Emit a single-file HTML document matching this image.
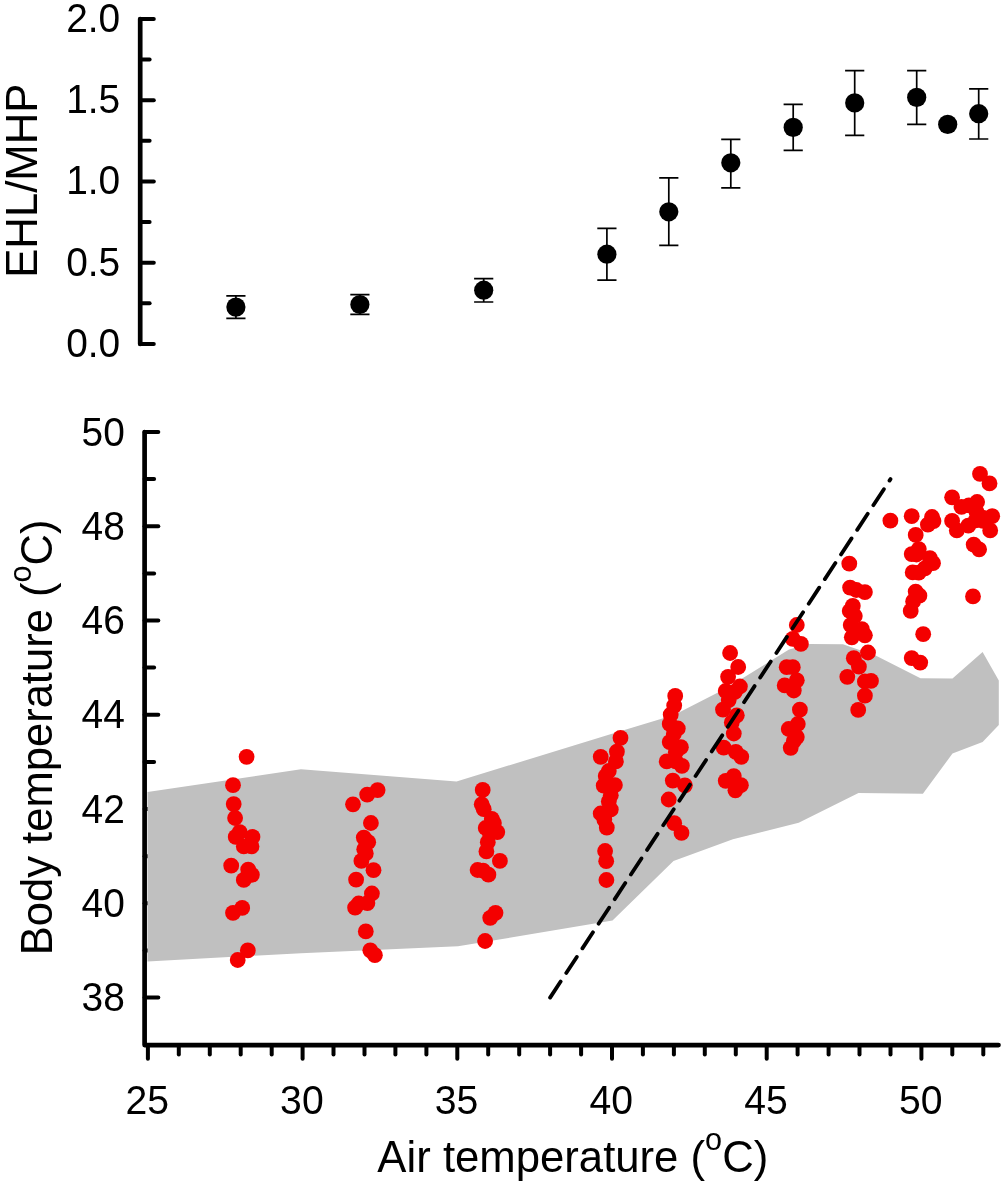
<!DOCTYPE html>
<html lang="en"><head><meta charset="utf-8"><title>EHL/MHP and body temperature vs air temperature</title>
<style>html,body{margin:0;padding:0;background:#fff;}body{width:1003px;height:1184px;overflow:hidden;}svg{display:block;}text{font-family:"Liberation Sans",Arial,Helvetica,sans-serif;fill:#000;}</style>
</head><body>
<svg width="1003" height="1184" viewBox="0 0 1003 1184">
<rect x="0" y="0" width="1003" height="1184" fill="#ffffff"/>
<g stroke="#000" stroke-linecap="round" fill="none">
<line x1="144.6" y1="997.6" x2="158.3" y2="997.6" stroke-width="4.0"/>
<line x1="144.6" y1="950.4" x2="154.1" y2="950.4" stroke-width="4.0"/>
<line x1="144.6" y1="903.3" x2="158.3" y2="903.3" stroke-width="4.0"/>
<line x1="144.6" y1="856.2" x2="154.1" y2="856.2" stroke-width="4.0"/>
<line x1="144.6" y1="809.0" x2="158.3" y2="809.0" stroke-width="4.0"/>
<line x1="144.6" y1="761.9" x2="154.1" y2="761.9" stroke-width="4.0"/>
<line x1="144.6" y1="714.8" x2="158.3" y2="714.8" stroke-width="4.0"/>
<line x1="144.6" y1="667.6" x2="154.1" y2="667.6" stroke-width="4.0"/>
<line x1="144.6" y1="620.5" x2="158.3" y2="620.5" stroke-width="4.0"/>
<line x1="144.6" y1="573.4" x2="154.1" y2="573.4" stroke-width="4.0"/>
<line x1="144.6" y1="526.3" x2="158.3" y2="526.3" stroke-width="4.0"/>
<line x1="144.6" y1="479.1" x2="154.1" y2="479.1" stroke-width="4.0"/>
<line x1="144.6" y1="432.0" x2="158.3" y2="432.0" stroke-width="4.0"/>
</g>
<polygon fill="#c0c0c0" points="147.5,792.0 301.0,769.2 456.5,781.6 612.0,733.7 674.0,715.0 716.5,693.3 744.2,677.2 789.0,649.5 809.8,644.0 843.0,644.2 876.6,655.9 920.5,678.2 952.5,678.6 982.6,652.1 998.8,680.5 998.8,725.0 982.6,742.1 952.5,753.5 922.9,793.8 858.5,792.9 798.7,822.8 732.9,839.3 673.5,861.0 612.5,920.6 458.0,946.3 301.0,953.2 147.5,961.4"/>
<g fill="#f40000">
<circle cx="246.6" cy="756.8" r="7.9"/>
<circle cx="233.0" cy="785.2" r="7.9"/>
<circle cx="233.7" cy="804.1" r="7.9"/>
<circle cx="235.1" cy="818.0" r="7.9"/>
<circle cx="235.7" cy="836.9" r="7.9"/>
<circle cx="239.7" cy="832.2" r="7.9"/>
<circle cx="252.5" cy="836.9" r="7.9"/>
<circle cx="243.8" cy="846.4" r="7.9"/>
<circle cx="251.5" cy="846.4" r="7.9"/>
<circle cx="231.2" cy="865.7" r="7.9"/>
<circle cx="248.2" cy="869.7" r="7.9"/>
<circle cx="251.9" cy="874.8" r="7.9"/>
<circle cx="243.8" cy="879.9" r="7.9"/>
<circle cx="242.2" cy="907.9" r="7.9"/>
<circle cx="233.0" cy="912.9" r="7.9"/>
<circle cx="247.8" cy="950.4" r="7.9"/>
<circle cx="237.7" cy="960.0" r="7.9"/>
<circle cx="377.6" cy="790.1" r="7.9"/>
<circle cx="367.2" cy="794.6" r="7.9"/>
<circle cx="353.0" cy="804.3" r="7.9"/>
<circle cx="370.9" cy="823.0" r="7.9"/>
<circle cx="363.8" cy="837.6" r="7.9"/>
<circle cx="368.2" cy="842.2" r="7.9"/>
<circle cx="364.2" cy="849.3" r="7.9"/>
<circle cx="365.8" cy="853.4" r="7.9"/>
<circle cx="361.4" cy="860.9" r="7.9"/>
<circle cx="373.5" cy="870.2" r="7.9"/>
<circle cx="356.1" cy="879.7" r="7.9"/>
<circle cx="371.9" cy="893.5" r="7.9"/>
<circle cx="367.4" cy="903.1" r="7.9"/>
<circle cx="358.7" cy="903.5" r="7.9"/>
<circle cx="355.1" cy="907.7" r="7.9"/>
<circle cx="365.8" cy="931.4" r="7.9"/>
<circle cx="370.3" cy="950.3" r="7.9"/>
<circle cx="374.9" cy="955.2" r="7.9"/>
<circle cx="482.7" cy="789.9" r="7.9"/>
<circle cx="481.7" cy="804.3" r="7.9"/>
<circle cx="483.7" cy="809.2" r="7.9"/>
<circle cx="491.8" cy="818.9" r="7.9"/>
<circle cx="493.9" cy="823.0" r="7.9"/>
<circle cx="485.7" cy="828.0" r="7.9"/>
<circle cx="497.3" cy="832.1" r="7.9"/>
<circle cx="489.8" cy="833.1" r="7.9"/>
<circle cx="487.8" cy="842.2" r="7.9"/>
<circle cx="486.4" cy="851.4" r="7.9"/>
<circle cx="499.9" cy="860.9" r="7.9"/>
<circle cx="477.6" cy="870.0" r="7.9"/>
<circle cx="483.1" cy="870.6" r="7.9"/>
<circle cx="488.4" cy="874.7" r="7.9"/>
<circle cx="495.5" cy="912.8" r="7.9"/>
<circle cx="490.2" cy="917.8" r="7.9"/>
<circle cx="485.1" cy="941.0" r="7.9"/>
<circle cx="620.5" cy="737.9" r="7.9"/>
<circle cx="616.9" cy="751.7" r="7.9"/>
<circle cx="600.7" cy="756.8" r="7.9"/>
<circle cx="615.9" cy="761.4" r="7.9"/>
<circle cx="608.8" cy="771.0" r="7.9"/>
<circle cx="605.7" cy="776.0" r="7.9"/>
<circle cx="614.9" cy="785.1" r="7.9"/>
<circle cx="603.7" cy="785.7" r="7.9"/>
<circle cx="610.8" cy="795.3" r="7.9"/>
<circle cx="608.8" cy="801.4" r="7.9"/>
<circle cx="610.8" cy="809.5" r="7.9"/>
<circle cx="600.7" cy="813.5" r="7.9"/>
<circle cx="604.3" cy="819.6" r="7.9"/>
<circle cx="606.8" cy="827.7" r="7.9"/>
<circle cx="605.1" cy="851.0" r="7.9"/>
<circle cx="606.2" cy="861.2" r="7.9"/>
<circle cx="606.4" cy="880.0" r="7.9"/>
<circle cx="675.2" cy="695.9" r="7.9"/>
<circle cx="674.2" cy="705.6" r="7.9"/>
<circle cx="670.7" cy="714.7" r="7.9"/>
<circle cx="669.7" cy="723.9" r="7.9"/>
<circle cx="677.8" cy="728.5" r="7.9"/>
<circle cx="673.8" cy="734.0" r="7.9"/>
<circle cx="669.7" cy="742.1" r="7.9"/>
<circle cx="680.9" cy="747.2" r="7.9"/>
<circle cx="675.8" cy="752.2" r="7.9"/>
<circle cx="666.7" cy="761.4" r="7.9"/>
<circle cx="675.8" cy="761.4" r="7.9"/>
<circle cx="681.9" cy="765.8" r="7.9"/>
<circle cx="672.8" cy="780.6" r="7.9"/>
<circle cx="684.9" cy="785.3" r="7.9"/>
<circle cx="668.7" cy="799.5" r="7.9"/>
<circle cx="674.2" cy="823.2" r="7.9"/>
<circle cx="681.5" cy="832.9" r="7.9"/>
<circle cx="730.1" cy="653.0" r="7.9"/>
<circle cx="738.2" cy="667.0" r="7.9"/>
<circle cx="728.1" cy="676.8" r="7.9"/>
<circle cx="739.9" cy="686.5" r="7.9"/>
<circle cx="725.7" cy="691.0" r="7.9"/>
<circle cx="734.8" cy="692.0" r="7.9"/>
<circle cx="728.7" cy="700.1" r="7.9"/>
<circle cx="723.0" cy="709.6" r="7.9"/>
<circle cx="736.8" cy="715.3" r="7.9"/>
<circle cx="731.8" cy="722.4" r="7.9"/>
<circle cx="733.8" cy="733.5" r="7.9"/>
<circle cx="723.7" cy="747.7" r="7.9"/>
<circle cx="735.8" cy="751.8" r="7.9"/>
<circle cx="741.3" cy="756.8" r="7.9"/>
<circle cx="733.8" cy="776.1" r="7.9"/>
<circle cx="725.7" cy="780.8" r="7.9"/>
<circle cx="740.9" cy="785.2" r="7.9"/>
<circle cx="735.4" cy="790.3" r="7.9"/>
<circle cx="796.8" cy="625.0" r="7.9"/>
<circle cx="792.8" cy="638.8" r="7.9"/>
<circle cx="800.9" cy="643.9" r="7.9"/>
<circle cx="786.7" cy="667.2" r="7.9"/>
<circle cx="792.8" cy="667.2" r="7.9"/>
<circle cx="796.8" cy="680.3" r="7.9"/>
<circle cx="784.7" cy="685.4" r="7.9"/>
<circle cx="793.8" cy="690.5" r="7.9"/>
<circle cx="799.9" cy="709.7" r="7.9"/>
<circle cx="797.8" cy="724.0" r="7.9"/>
<circle cx="788.7" cy="729.0" r="7.9"/>
<circle cx="796.8" cy="737.1" r="7.9"/>
<circle cx="793.8" cy="741.0" r="7.9"/>
<circle cx="790.7" cy="747.8" r="7.9"/>
<circle cx="849.3" cy="563.7" r="7.9"/>
<circle cx="850.1" cy="587.6" r="7.9"/>
<circle cx="864.9" cy="592.1" r="7.9"/>
<circle cx="852.8" cy="605.9" r="7.9"/>
<circle cx="849.7" cy="611.0" r="7.9"/>
<circle cx="854.8" cy="616.0" r="7.9"/>
<circle cx="850.7" cy="625.1" r="7.9"/>
<circle cx="861.9" cy="629.2" r="7.9"/>
<circle cx="864.9" cy="635.3" r="7.9"/>
<circle cx="851.8" cy="637.3" r="7.9"/>
<circle cx="868.0" cy="652.5" r="7.9"/>
<circle cx="853.8" cy="658.2" r="7.9"/>
<circle cx="858.9" cy="666.7" r="7.9"/>
<circle cx="847.3" cy="676.8" r="7.9"/>
<circle cx="871.0" cy="680.9" r="7.9"/>
<circle cx="864.9" cy="681.5" r="7.9"/>
<circle cx="864.9" cy="695.7" r="7.9"/>
<circle cx="858.2" cy="709.9" r="7.9"/>
<circle cx="890.4" cy="520.7" r="7.9"/>
<circle cx="911.7" cy="516.2" r="7.9"/>
<circle cx="932.0" cy="517.0" r="7.9"/>
<circle cx="927.9" cy="524.7" r="7.9"/>
<circle cx="915.7" cy="534.9" r="7.9"/>
<circle cx="918.8" cy="549.1" r="7.9"/>
<circle cx="911.7" cy="554.1" r="7.9"/>
<circle cx="929.9" cy="558.2" r="7.9"/>
<circle cx="933.0" cy="563.2" r="7.9"/>
<circle cx="924.9" cy="568.3" r="7.9"/>
<circle cx="912.7" cy="572.4" r="7.9"/>
<circle cx="915.7" cy="591.6" r="7.9"/>
<circle cx="919.4" cy="595.7" r="7.9"/>
<circle cx="913.1" cy="601.4" r="7.9"/>
<circle cx="910.7" cy="610.9" r="7.9"/>
<circle cx="923.2" cy="634.2" r="7.9"/>
<circle cx="911.7" cy="658.1" r="7.9"/>
<circle cx="920.2" cy="662.6" r="7.9"/>
<circle cx="980.0" cy="473.9" r="7.9"/>
<circle cx="989.5" cy="483.4" r="7.9"/>
<circle cx="952.1" cy="497.3" r="7.9"/>
<circle cx="961.5" cy="506.8" r="7.9"/>
<circle cx="977.1" cy="502.0" r="7.9"/>
<circle cx="976.4" cy="511.5" r="7.9"/>
<circle cx="992.2" cy="516.2" r="7.9"/>
<circle cx="983.1" cy="520.9" r="7.9"/>
<circle cx="990.2" cy="530.4" r="7.9"/>
<circle cx="952.1" cy="520.9" r="7.9"/>
<circle cx="968.3" cy="525.7" r="7.9"/>
<circle cx="956.8" cy="530.4" r="7.9"/>
<circle cx="973.7" cy="544.6" r="7.9"/>
<circle cx="979.1" cy="549.3" r="7.9"/>
<circle cx="973.0" cy="596.4" r="7.9"/>
<circle cx="856.3" cy="590.0" r="7.9"/>
<circle cx="933.5" cy="521.1" r="7.9"/>
<circle cx="918.7" cy="572.6" r="7.9"/>
<circle cx="916.5" cy="554.5" r="7.9"/>
<circle cx="968.9" cy="505.4" r="7.9"/>
<circle cx="975.7" cy="520.3" r="7.9"/>
<circle cx="982.5" cy="517.6" r="7.9"/>
</g>
<line x1="550.1" y1="997.6" x2="890.5" y2="479.1" stroke="#000" stroke-width="3.8" stroke-dasharray="19.2 10.25" stroke-linecap="round"/>
<g stroke="#000" stroke-linecap="round" stroke-linejoin="round" fill="none">
<line x1="147.9" y1="1045.1" x2="147.9" y2="1058.7" stroke-width="4.0"/>
<line x1="178.8" y1="1045.1" x2="178.8" y2="1054.5" stroke-width="4.0"/>
<line x1="209.8" y1="1045.1" x2="209.8" y2="1054.5" stroke-width="4.0"/>
<line x1="240.7" y1="1045.1" x2="240.7" y2="1054.5" stroke-width="4.0"/>
<line x1="271.7" y1="1045.1" x2="271.7" y2="1054.5" stroke-width="4.0"/>
<line x1="302.6" y1="1045.1" x2="302.6" y2="1058.7" stroke-width="4.0"/>
<line x1="333.5" y1="1045.1" x2="333.5" y2="1054.5" stroke-width="4.0"/>
<line x1="364.5" y1="1045.1" x2="364.5" y2="1054.5" stroke-width="4.0"/>
<line x1="395.4" y1="1045.1" x2="395.4" y2="1054.5" stroke-width="4.0"/>
<line x1="426.4" y1="1045.1" x2="426.4" y2="1054.5" stroke-width="4.0"/>
<line x1="457.3" y1="1045.1" x2="457.3" y2="1058.7" stroke-width="4.0"/>
<line x1="488.2" y1="1045.1" x2="488.2" y2="1054.5" stroke-width="4.0"/>
<line x1="519.2" y1="1045.1" x2="519.2" y2="1054.5" stroke-width="4.0"/>
<line x1="550.1" y1="1045.1" x2="550.1" y2="1054.5" stroke-width="4.0"/>
<line x1="581.1" y1="1045.1" x2="581.1" y2="1054.5" stroke-width="4.0"/>
<line x1="612.0" y1="1045.1" x2="612.0" y2="1058.7" stroke-width="4.0"/>
<line x1="642.9" y1="1045.1" x2="642.9" y2="1054.5" stroke-width="4.0"/>
<line x1="673.9" y1="1045.1" x2="673.9" y2="1054.5" stroke-width="4.0"/>
<line x1="704.8" y1="1045.1" x2="704.8" y2="1054.5" stroke-width="4.0"/>
<line x1="735.8" y1="1045.1" x2="735.8" y2="1054.5" stroke-width="4.0"/>
<line x1="766.7" y1="1045.1" x2="766.7" y2="1058.7" stroke-width="4.0"/>
<line x1="797.6" y1="1045.1" x2="797.6" y2="1054.5" stroke-width="4.0"/>
<line x1="828.6" y1="1045.1" x2="828.6" y2="1054.5" stroke-width="4.0"/>
<line x1="859.5" y1="1045.1" x2="859.5" y2="1054.5" stroke-width="4.0"/>
<line x1="890.5" y1="1045.1" x2="890.5" y2="1054.5" stroke-width="4.0"/>
<line x1="921.4" y1="1045.1" x2="921.4" y2="1058.7" stroke-width="4.0"/>
<line x1="952.3" y1="1045.1" x2="952.3" y2="1054.5" stroke-width="4.0"/>
<line x1="983.3" y1="1045.1" x2="983.3" y2="1054.5" stroke-width="4.0"/>
<polyline points="144.6,432.0 144.6,1045.1 998.5,1045.1" stroke-width="4.7" stroke-linejoin="round"/>
</g>
<g stroke="#000" stroke-linecap="round" fill="none">
<line x1="140.2" y1="343.9" x2="153.8" y2="343.9" stroke-width="4.0"/>
<line x1="140.2" y1="303.3" x2="149.6" y2="303.3" stroke-width="4.0"/>
<line x1="140.2" y1="262.7" x2="153.8" y2="262.7" stroke-width="4.0"/>
<line x1="140.2" y1="222.1" x2="149.6" y2="222.1" stroke-width="4.0"/>
<line x1="140.2" y1="181.4" x2="153.8" y2="181.4" stroke-width="4.0"/>
<line x1="140.2" y1="140.8" x2="149.6" y2="140.8" stroke-width="4.0"/>
<line x1="140.2" y1="100.2" x2="153.8" y2="100.2" stroke-width="4.0"/>
<line x1="140.2" y1="59.6" x2="149.6" y2="59.6" stroke-width="4.0"/>
<line x1="140.2" y1="19.0" x2="153.8" y2="19.0" stroke-width="4.0"/>
<line x1="140.2" y1="19.0" x2="140.2" y2="343.9" stroke-width="4.7"/>
</g>
<g stroke="#000" stroke-width="1.7" fill="none" stroke-linecap="butt">
<path d="M235.9 295.9V318.3M226.3 295.9H245.5M226.3 318.3H245.5"/>
<path d="M359.9 294.7V314.4M350.3 294.7H369.5M350.3 314.4H369.5"/>
<path d="M483.7 278.7V302.0M474.1 278.7H493.3M474.1 302.0H493.3"/>
<path d="M606.9 228.3V280.2M597.3 228.3H616.5M597.3 280.2H616.5"/>
<path d="M668.8 177.8V245.3M659.2 177.8H678.4M659.2 245.3H678.4"/>
<path d="M730.8 139.4V187.8M721.2 139.4H740.4M721.2 187.8H740.4"/>
<path d="M793.2 104.4V150.3M783.6 104.4H802.8M783.6 150.3H802.8"/>
<path d="M854.7 70.6V135.4M845.1 70.6H864.3M845.1 135.4H864.3"/>
<path d="M916.7 70.6V124.4M907.1 70.6H926.3M907.1 124.4H926.3"/>
<path d="M978.7 88.8V139.0M969.1 88.8H988.3M969.1 139.0H988.3"/>
</g>
<g fill="#000">
<circle cx="235.9" cy="307.1" r="9.6"/>
<circle cx="359.9" cy="304.5" r="9.6"/>
<circle cx="483.7" cy="290.2" r="9.6"/>
<circle cx="606.9" cy="254.2" r="9.6"/>
<circle cx="668.8" cy="211.8" r="9.6"/>
<circle cx="730.8" cy="162.8" r="9.6"/>
<circle cx="793.2" cy="127.4" r="9.6"/>
<circle cx="854.7" cy="102.9" r="9.6"/>
<circle cx="916.7" cy="97.4" r="9.6"/>
<circle cx="947.7" cy="124.4" r="9.6"/>
<circle cx="978.7" cy="113.7" r="9.6"/>
</g>
<g font-size="38.7" text-anchor="end">
<text transform="translate(120.2,356.8) scale(1.005,1.035)">0.0</text>
<text transform="translate(120.2,275.6) scale(1.005,1.035)">0.5</text>
<text transform="translate(120.2,194.3) scale(1.005,1.035)">1.0</text>
<text transform="translate(120.2,113.1) scale(1.005,1.035)">1.5</text>
<text transform="translate(120.2,31.9) scale(1.005,1.035)">2.0</text>
<text transform="translate(124.8,1011.1) scale(1.005,1.035)">38</text>
<text transform="translate(124.8,916.8) scale(1.005,1.035)">40</text>
<text transform="translate(124.8,822.5) scale(1.005,1.035)">42</text>
<text transform="translate(124.8,728.3) scale(1.005,1.035)">44</text>
<text transform="translate(124.8,634.0) scale(1.005,1.035)">46</text>
<text transform="translate(124.8,539.8) scale(1.005,1.035)">48</text>
<text transform="translate(124.8,445.5) scale(1.005,1.035)">50</text>
</g>
<g font-size="38.7" text-anchor="middle">
<text transform="translate(147.2,1113.5) scale(1.012,1.035)">25</text>
<text transform="translate(301.9,1113.5) scale(1.012,1.035)">30</text>
<text transform="translate(456.6,1113.5) scale(1.012,1.035)">35</text>
<text transform="translate(611.3,1113.5) scale(1.012,1.035)">40</text>
<text transform="translate(766.0,1113.5) scale(1.012,1.035)">45</text>
<text transform="translate(920.7,1113.5) scale(1.012,1.035)">50</text>
</g>
<text font-size="43.7" text-anchor="middle" x="572.8" y="1172">Air temperature (<tspan font-size="30.6" dy="-21.8">o</tspan><tspan dy="21.8">C)</tspan></text>
<text font-size="43.55" text-anchor="middle" transform="translate(52.4,737.4) rotate(-90)">Body temperature (<tspan font-size="30.6" dy="-21.8">o</tspan><tspan dy="21.8">C)</tspan></text>
<text font-size="43.7" text-anchor="middle" transform="translate(37.1,180.7) rotate(-90)">EHL/MHP</text>
</svg>
</body></html>
